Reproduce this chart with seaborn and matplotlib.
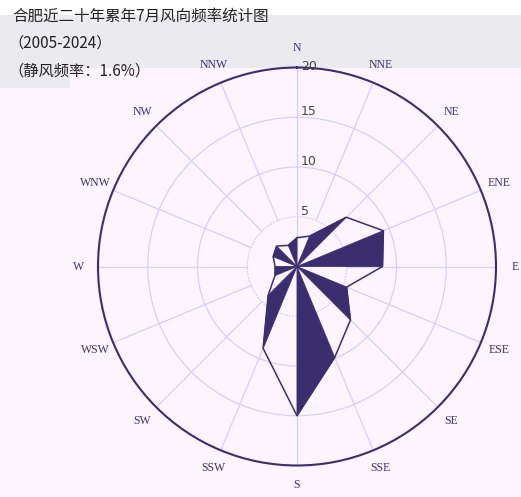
import numpy as np
import matplotlib
matplotlib.use("Agg")
import matplotlib.pyplot as plt
from matplotlib.patches import Rectangle
import seaborn as sns

# 16 wind directions, July frequency (%) over 2005-2024
directions = ['N', 'NNE', 'NE', 'ENE', 'E', 'ESE', 'SE', 'SSE',
              'S', 'SSW', 'SW', 'WSW', 'W', 'WNW', 'NW', 'NNW']
freq = [2.9, 3.3, 7.0, 9.4, 8.6, 5.4, 7.6, 9.9,
        15.0, 8.9, 4.1, 2.4, 2.2, 2.6, 2.9, 2.3]
r_ticks = [5, 10, 15, 20]
title_lines = ['合肥近二十年累年7月风向频率统计图', '（2005-2024）', '（静风频率：1.6%）']

sns.set_theme(style='white')
plt.rcParams['font.family'] = ['Noto Sans CJK SC', 'DejaVu Sans']

navy = '#3b2e6e'
pink = '#fcf4ff'
grey = '#ebebef'
gridc = '#d4d0fb'

W, H = 521, 497
fig = plt.figure(figsize=(W / 100, H / 100), dpi=100, facecolor=pink)

# header bands
fig.patches.append(Rectangle((0, (H - 15) / H), 1, 15 / H, transform=fig.transFigure,
                             facecolor='white', edgecolor='none', zorder=-1))
fig.patches.append(Rectangle((0, (H - 68) / H), 1, 53 / H, transform=fig.transFigure,
                             facecolor=grey, edgecolor='none', zorder=-1))
fig.patches.append(Rectangle((0, (H - 88) / H), 70 / W, 20 / H, transform=fig.transFigure,
                             facecolor=grey, edgecolor='none', zorder=-1))

cx, cy, rad = 297, 266.5, 199
ax = fig.add_axes([(cx - rad) / W, (H - cy - rad) / H, 2 * rad / W, 2 * rad / H],
                  projection='polar')
ax.set_facecolor('none')
ax.set_theta_zero_location('N')
ax.set_theta_direction(-1)

theta = np.deg2rad(np.arange(len(directions)) * 22.5)
r = np.array(freq)

# spokes start at the first ring, except the N axis line
for k, t in enumerate(theta):
    r0 = 0 if k == 0 else r_ticks[0]
    ax.plot([t, t], [r0, r_ticks[-1]], color=gridc, lw=0.9, zorder=1)

# alternate filled triangles
n = len(directions)
for i in range(1, n, 2):
    j = (i + 1) % n
    ax.fill([0, theta[i], theta[j]], [0, r[i], r[j]], color=navy, lw=0.6, zorder=3)

th_closed = np.append(theta, theta[0] + 2 * np.pi)
r_closed = np.append(r, r[0])
sns.lineplot(x=th_closed, y=r_closed, sort=False, ax=ax, color=navy, lw=1.1, zorder=4)

ax.set_ylim(0, 20)
ax.set_yticks(r_ticks)
ax.set_yticklabels([])
for v in r_ticks:
    ax.annotate(str(v), xy=(0, v), xytext=(3, 4 if v < 20 else 1), textcoords='offset points',
                ha='left', va='center', fontsize=9, color='#444444', family='DejaVu Sans')

ax.set_xticks(theta)
ax.set_xticklabels(directions, family='Liberation Serif', fontsize=8.5, color='#3a3470')
ax.tick_params(axis='x', pad=1)
ax.set_xlabel('')
ax.set_ylabel('')

ax.xaxis.grid(False)
ax.yaxis.grid(True, color=gridc, lw=0.9)
ax.yaxis.get_gridlines()[0].set_linestyle((0, (1.5, 1)))
ax.spines['polar'].set_color(navy)
ax.spines['polar'].set_linewidth(1.5)

fig.text(12 / W, 1 - 16 / H, title_lines[0], fontsize=11.2, color='#222222', va='center')
fig.text(8 / W, 1 - 43 / H, title_lines[1], fontsize=11, color='#222222', va='center')
fig.text(8 / W, 1 - 71 / H, title_lines[2], fontsize=11, color='#222222', va='center')

fig.savefig('out.png', dpi=100, facecolor=pink)
